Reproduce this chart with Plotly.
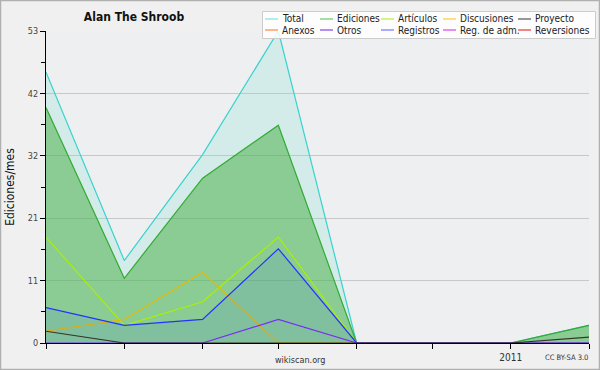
import plotly.graph_objects as go

# ---------------- data ----------------
months = ["2010-07-01", "2010-08-01", "2010-09-01", "2010-10-01",
          "2010-11-01", "2010-12-01", "2011-01-01", "2011-02-01"]
total = [46, 14, 32, 53, 0, 0, 0, 3]
ediciones = [40, 11, 28, 37, 0, 0, 0, 3]
articulos = [18, 3, 7, 18, 0, 0, 0, 0]
discusiones = [2, 4, 12, 0, 0, 0, 0, 0]
proyecto = [2, 0, 0, 0, 0, 0, 0, 1]
otros = [0, 0, 0, 4, 0, 0, 0, 0]
registros = [6, 3, 4, 16, 0, 0, 0, 0]

x_ticktext = ["", "", "", "", "", "", "2011", ""]
y_tickvals = [0, 10.6, 21.2, 31.8, 42.4, 53]
y_ticktext = ["0", "11", "21", "32", "42", "53"]
y_minor = [5.3, 15.9, 26.5, 37.1, 47.7]

legend_row1 = ["Total", "Ediciones", "Artículos", "Discusiones", "Proyecto"]
legend_row2 = ["Anexos", "Otros", "Registros", "Reg. de adm.", "Reversiones"]
legend_col1 = ["#7fe3e0", "#66cc66", "#bbee33", "#ffcc33", "#555555"]
legend_col2 = ["#ff8844", "#8844ee", "#7777ff", "#dd44ee", "#ee3333"]

FONT = "DejaVu Sans Condensed, Liberation Sans Narrow, DejaVu Sans"
W, H = 600, 370
L, R, T, B = 46, 11, 31, 27
PW, PH = W - L - R, H - T - B


def px(xp):
    return (xp - L) / PW


def py(yp):
    return (H - B - yp) / PH


fig = go.Figure()

fig.add_trace(go.Scatter(x=months, y=total, name="Total", mode="lines",
                         line=dict(color="#3ad2cc", width=1.2),
                         fill="tozeroy", fillcolor="rgba(110,225,205,0.2)"))
fig.add_trace(go.Scatter(x=months, y=ediciones, name="Ediciones", mode="lines",
                         line=dict(color="#33aa33", width=1.2),
                         fill="tozeroy", fillcolor="rgba(70,175,70,0.52)"))
fig.add_trace(go.Scatter(x=months, y=articulos, name="Artículos", mode="lines",
                         line=dict(color="#aaf000", width=1.2)))
fig.add_trace(go.Scatter(x=months, y=discusiones, name="Discusiones", mode="lines",
                         line=dict(color="#e8b800", width=1.2)))
fig.add_trace(go.Scatter(x=months, y=registros, name="Registros", mode="lines",
                         line=dict(color="#2233ff", width=1.2),
                         fill="tozeroy", fillcolor="rgba(60,90,255,0.10)"))
fig.add_trace(go.Scatter(x=months, y=otros, name="Otros", mode="lines",
                         line=dict(color="#7a2ef0", width=1.2)))
fig.add_trace(go.Scatter(x=months, y=proyecto, name="Proyecto", mode="lines",
                         line=dict(color="rgba(40,30,20,0.85)", width=1.2)))

shapes = []
annotations = []

# outer border
shapes.append(dict(type="rect", xref="paper", yref="paper",
                   x0=px(0.5), x1=px(W - 0.5), y0=py(0.5), y1=py(H - 0.5),
                   line=dict(color="#b0b0b0", width=1.5), layer="below"))

# legend box
shapes.append(dict(type="rect", xref="paper", yref="paper",
                   x0=px(262.5), x1=px(595.5), y0=py(11.5), y1=py(38.5),
                   line=dict(color="#cccccc", width=1),
                   fillcolor="rgba(255,255,255,0.85)", layer="above"))

col_sym_x = [265, 320, 381, 443, 518]
row_y = [19, 30]
for r, (names, cols) in enumerate([(legend_row1, legend_col1), (legend_row2, legend_col2)]):
    for c, (nm, colr) in enumerate(zip(names, cols)):
        x0 = col_sym_x[c]
        shapes.append(dict(type="line", xref="paper", yref="paper",
                           x0=px(x0), x1=px(x0 + 13), y0=py(row_y[r]), y1=py(row_y[r]),
                           line=dict(color=colr, width=1.2), layer="above"))
        annotations.append(dict(text=nm, xref="paper", yref="paper",
                                x=px(x0 + 15), y=py(row_y[r]), xanchor="left", yanchor="middle",
                                showarrow=False, font=dict(family=FONT, size=10, color="#222")))

annotations.append(dict(text="wikiscan.org", xref="paper", yref="paper",
                        x=px(300), y=py(360), xanchor="center", yanchor="middle",
                        showarrow=False, font=dict(family=FONT, size=9, color="#333")))
annotations.append(dict(text="CC BY-SA 3.0", xref="paper", yref="paper",
                        x=px(590), y=py(357), xanchor="right", yanchor="middle",
                        showarrow=False, font=dict(family=FONT, size=7.5, color="#333")))

fig.update_layout(
    width=W, height=H,
    margin=dict(l=L, r=R, t=T, b=B, pad=0, autoexpand=False),
    paper_bgcolor="#f0f0f0",
    plot_bgcolor="#eeeff1",
    showlegend=False,
    title=dict(text="Alan The Shroob", xref="container", yref="container",
               x=134 / W, y=1 - 17 / H, xanchor="center", yanchor="middle",
               font=dict(family=FONT, size=12, color="#111", weight="bold")),
    font=dict(family=FONT, size=10, color="#333"),
    shapes=shapes,
    annotations=annotations,
    xaxis=dict(type="date", range=[months[0], months[-1]], automargin=False,
               tickmode="array", tickvals=months, ticktext=x_ticktext,
               ticks="outside", ticklen=5, tickcolor="#000", tickwidth=1,
               showline=True, linecolor="#000", linewidth=1.2,
               showgrid=False, zeroline=False,
               tickfont=dict(family=FONT, size=10, color="#333")),
    yaxis=dict(range=[0, 53], automargin=False,
               tickmode="array", tickvals=y_tickvals, ticktext=y_ticktext,
               ticks="outside", ticklen=5, tickcolor="#000", tickwidth=1,
               showline=True, linecolor="#000", linewidth=1.2,
               showgrid=True, gridcolor="#c8c8c8", gridwidth=1, zeroline=False,
               minor=dict(tickmode="array", tickvals=y_minor, ticks="outside",
                          ticklen=4, tickcolor="#000", showgrid=False),
               tickfont=dict(family=FONT, size=9, color="#444"),
               title=dict(text="Ediciones/mes", standoff=10,
                          font=dict(family=FONT, size=12, color="#111"))),
)

fig.write_html("out.html",
               config={"displayModeBar": False},
               post_script="document.body.style.margin='0px';"
                           "document.body.style.overflow='hidden';")
